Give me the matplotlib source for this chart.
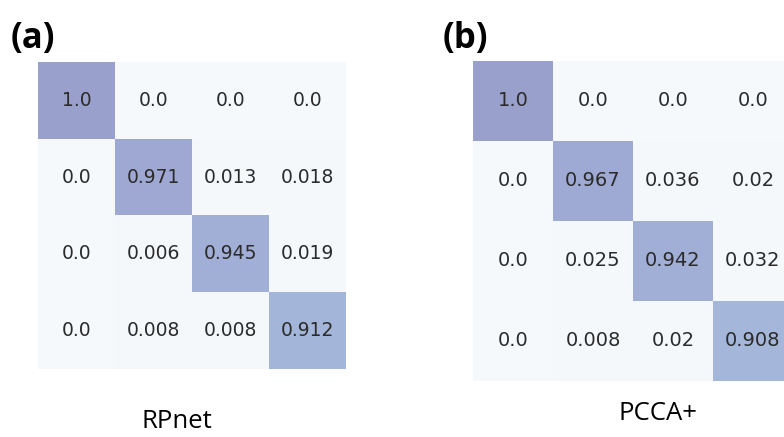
import numpy as np
import matplotlib
matplotlib.use("Agg")
import matplotlib.pyplot as plt
from matplotlib.colors import LinearSegmentedColormap

# Normalised confusion matrices for the two clustering methods
rpnet = [[1.0, 0.0, 0.0, 0.0],
         [0.0, 0.971, 0.013, 0.018],
         [0.0, 0.006, 0.945, 0.019],
         [0.0, 0.008, 0.008, 0.912]]
pcca = [[1.0, 0.0, 0.0, 0.0],
        [0.0, 0.967, 0.036, 0.02],
        [0.0, 0.025, 0.942, 0.032],
        [0.0, 0.008, 0.02, 0.908]]
rpnet_labels = [["1.0", "0.0", "0.0", "0.0"],
                ["0.0", "0.971", "0.013", "0.018"],
                ["0.0", "0.006", "0.945", "0.019"],
                ["0.0", "0.008", "0.008", "0.912"]]
pcca_labels = [["1.0", "0.0", "0.0", "0.0"],
               ["0.0", "0.967", "0.036", "0.02"],
               ["0.0", "0.025", "0.942", "0.032"],
               ["0.0", "0.008", "0.02", "0.908"]]
titles = ["RPnet", "PCCA+"]
tags = ["(a)", "(b)"]

cmap = LinearSegmentedColormap.from_list(
    "soft", [(0.0, "#f5f9fc"), (0.2, "#f3f7fb"), (0.6, "#d0dcec"),
             (0.91, "#a4b6d9"), (0.96, "#a0add5"), (1.0, "#9aa0cc")])

fig = plt.figure(figsize=(7.84, 4.37), dpi=100)
fig.patch.set_facecolor("white")

# panel boxes in figure fractions
boxes = [[38 / 784, 1 - 369 / 437, 308 / 784, 307 / 437],
         [473 / 784, 1 - 381 / 437, 320 / 784, 320 / 437]]
fsizes = [13.5, 14]

for k, (mat, labs) in enumerate([(rpnet, rpnet_labels), (pcca, pcca_labels)]):
    ax = fig.add_axes(boxes[k])
    ax.imshow(np.array(mat), cmap=cmap, vmin=0, vmax=1, aspect="auto",
              interpolation="nearest")
    for i in range(4):
        for j in range(4):
            ax.text(j, i, labs[i][j], ha="center", va="center",
                    fontsize=fsizes[k], color="#2b2b2b", family="DejaVu Sans")
    ax.set_xticks([]); ax.set_yticks([])
    for s in ax.spines.values():
        s.set_visible(False)

fig.text(11 / 784, 1 - 39 / 437, tags[0], fontsize=25, fontweight="bold",
         family="Open Sans", va="center", ha="left")
fig.text(443 / 784, 1 - 39 / 437, tags[1], fontsize=25, fontweight="bold",
         family="Open Sans", va="center", ha="left")
fig.text(177 / 784, 1 - 421 / 437, titles[0], fontsize=18.5, family="Open Sans",
         va="center", ha="center")
fig.text(658 / 784, 1 - 413 / 437, titles[1], fontsize=18.5, family="Open Sans",
         va="center", ha="center")

fig.savefig("out.png", dpi=100)
